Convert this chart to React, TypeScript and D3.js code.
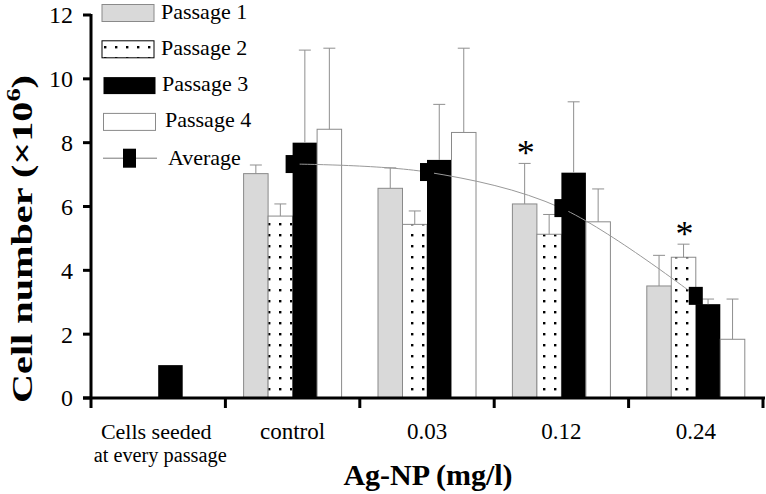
import React from "react";
import * as d3 from "d3";

const categories = ["seeded", "control", "0.03", "0.12", "0.24"];
const categoryLabels = [["Cells seeded", "at every passage"], ["control"], ["0.03"], ["0.12"], ["0.24"]];
const seriesNames = ["Passage 1", "Passage 2", "Passage 3", "Passage 4"];

const passage1 = [null, 7.03, 6.57, 6.08, 3.51];
const passage2 = [null, 5.7, 5.44, 5.13, 4.41];
const passage3 = [1.03, 8.0, 7.46, 7.06, 2.94];
const passage4 = [null, 8.42, 8.32, 5.52, 1.84];

const error1 = [null, 0.27, 0.64, 1.27, 0.96];
const error2 = [null, 0.38, 0.42, 0.62, 0.41];
const error3 = [null, 2.9, 1.74, 2.22, 0.16];
const error4 = [null, 2.54, 2.64, 1.03, 1.26];

const average = [null, 7.33, 7.08, 5.95, 3.2];

const significant = [
  { category: "0.12", series: "Passage 1" },
  { category: "0.24", series: "Passage 2" },
];

const yTicks = [0, 2, 4, 6, 8, 10, 12];

const W = 766;
const H = 494;
const FONT = "'Liberation Serif', 'Times New Roman', Times, serif";
const GRAY_STROKE = "#8a8a8a";
const ERR = "#8f8f8f";

export default function App() {
  const y = d3.scaleLinear().domain([0, 12]).range([398, 15]);
  const x0 = d3.scaleBand<string>().domain(categories).range([91, 763]).paddingInner(0).paddingOuter(0);
  const x1 = d3.scaleBand<string>().domain(seriesNames).range([-49, 49]);
  const bw = x1.bandwidth();

  const values = [passage1, passage2, passage3, passage4];
  const errors = [error1, error2, error3, error4];
  const fills = ["#d9d9d9", "url(#dots)", "#000", "#fff"];
  const strokes = [GRAY_STROKE, GRAY_STROKE, "#000", GRAY_STROKE];

  const center = (c: string) => (x0(c) as number) + x0.bandwidth() / 2;

  type Bar = { key: string; x: number; y: number; h: number; si: number; ci: number; err: number | null; v: number };
  const bars: Bar[] = [];
  categories.forEach((c, ci) => {
    seriesNames.forEach((s, si) => {
      const v = values[si][ci];
      if (v == null) return;
      const bx = center(c) + (x1(s) as number);
      bars.push({ key: `${c}-${s}`, x: bx, y: y(v), h: y(0) - y(v), si, ci, err: errors[si][ci], v });
    });
  });

  const avgPts: [number, number][] = [];
  categories.forEach((c, ci) => {
    const a = average[ci];
    if (a != null) avgPts.push([center(c), y(a)]);
  });
  const line = d3.line().curve(d3.curveCatmullRom.alpha(0.5))(avgPts) || "";

  const legendRowY = (i: number) => 13 + i * 36.3;
  const legendTextX = [161, 161, 162, 165, 168];

  return (
    <svg width={W} height={H} style={{ position: "absolute", left: 0, top: 0, background: "#fff" }} fontFamily={FONT}>
      <defs>
        <pattern id="dots" patternUnits="userSpaceOnUse" x={4} y={3} width={11} height={11}>
          <rect width={11} height={11} fill="#fff" />
          <rect x={0} y={0} width={2.4} height={2.4} fill="#000" />
        </pattern>
        <pattern id="dotsLegend" patternUnits="userSpaceOnUse" x={104} y={46} width={11} height={11}>
          <rect width={11} height={11} fill="#fff" />
          <rect x={0} y={0} width={2.4} height={2.4} fill="#000" />
        </pattern>
      </defs>
      <rect width={W} height={H} fill="#fff" />

      {/* bars */}
      {bars.map((b) => (
        <rect
          key={b.key}
          x={b.x}
          y={b.y}
          width={bw}
          height={b.h}
          fill={fills[b.si]}
          stroke={strokes[b.si]}
          strokeWidth={b.si === 2 ? 0 : 1}
        />
      ))}

      {/* error bars */}
      {bars
        .filter((b) => b.err != null)
        .map((b) => {
          const cx = b.x + bw / 2;
          const top = y(b.v + (b.err as number));
          return (
            <g key={"e" + b.key} stroke={ERR} strokeWidth={1} fill="none">
              <line x1={cx} x2={cx} y1={b.y} y2={top} />
              <line x1={cx - 6} x2={cx + 6} y1={top} y2={top} />
            </g>
          );
        })}

      {/* average line and markers */}
      <path d={line} fill="none" stroke="#999" strokeWidth={1} />
      {avgPts.map(([px, py], i) => (
        <rect key={"m" + i} x={px - 7} y={py - 9} width={14} height={18} fill="#000" />
      ))}

      {/* significance */}
      {significant.map((s) => {
        const ci = categories.indexOf(s.category);
        const si = seriesNames.indexOf(s.series);
        const v = values[si][ci] as number;
        const e = errors[si][ci] as number;
        const cx = center(s.category) + (x1(s.series) as number) + bw / 2;
        return (
          <text key={"s" + s.category} x={cx + 1} y={y(v + e) + 2} fontSize={36} textAnchor="middle" fill="#000">
            *
          </text>
        );
      })}

      {/* axes */}
      <line x1={91} x2={91} y1={y(0) + 1} y2={y(12) - 1} stroke="#000" strokeWidth={3} />
      {yTicks.map((t) => (
        <g key={"yt" + t}>
          <line x1={83} x2={91} y1={y(t)} y2={y(t)} stroke="#000" strokeWidth={3} />
          <text x={73} y={y(t)} dy="0.35em" fontSize={24} textAnchor="end" fill="#000">
            {t}
          </text>
        </g>
      ))}
      <line x1={83} x2={765} y1={y(0)} y2={y(0)} stroke="#000" strokeWidth={3} />
      {categories.map((c) => (
        <line key={"xt" + c} x1={x0(c) as number} x2={x0(c) as number} y1={y(0)} y2={y(0) + 10} stroke="#000" strokeWidth={3} />
      ))}
      <line x1={763} x2={763} y1={y(0)} y2={y(0) + 10} stroke="#000" strokeWidth={3} />

      {categories.map((c, ci) => {
        const lines = categoryLabels[ci];
        if (lines.length === 2) {
          return (
            <g key={"xl" + c}>
              <text x={center(c) - 2} y={439} fontSize={22} textAnchor="middle" fill="#000">
                {lines[0]}
              </text>
              <text x={center(c) + 2} y={461.5} fontSize={20} textAnchor="middle" fill="#000" textLength={133} lengthAdjust="spacingAndGlyphs">
                {lines[1]}
              </text>
            </g>
          );
        }
        return (
          <text key={"xl" + c} x={center(c)} y={438.5} fontSize={23} textAnchor="middle" fill="#000">
            {lines[0]}
          </text>
        );
      })}

      {/* axis titles */}
      <text x={428} y={485} fontSize={30} fontWeight="bold" textAnchor="middle" fill="#000">
        Ag-NP (mg/l)
      </text>
      <text
        transform={`translate(32,239) rotate(-90)`}
        fontSize={29}
        fontWeight="bold"
        textAnchor="middle"
        fill="#000"
        textLength={328}
        lengthAdjust="spacingAndGlyphs"
      >
        Cell number (×10
        <tspan fontSize={19} dy={-12}>6</tspan>
        <tspan dy={12}>)</tspan>
      </text>

      {/* legend */}
      {seriesNames.map((s, i) => {
        const cy = legendRowY(i);
        const sx = i >= 2 ? 103.5 : 102;
        return (
          <g key={"lg" + s}>
            <rect
              x={sx}
              y={cy - 8.5}
              width={52}
              height={17}
              fill={i === 1 ? "url(#dotsLegend)" : fills[i]}
              stroke={i === 1 ? "#000" : strokes[i]}
              strokeWidth={i === 2 ? 0 : 1}
            />
            <text x={legendTextX[i]} y={cy + 5.5} fontSize={22} fill="#000">
              {s}
            </text>
          </g>
        );
      })}
      <g>
        <line x1={103} x2={157} y1={legendRowY(4)} y2={legendRowY(4)} stroke="#777" strokeWidth={1} />
        <rect x={123} y={legendRowY(4) - 9.5} width={13} height={19} fill="#000" />
        <text x={legendTextX[4]} y={legendRowY(4) + 6.5} fontSize={22} fill="#000">
          Average
        </text>
      </g>
    </svg>
  );
}
